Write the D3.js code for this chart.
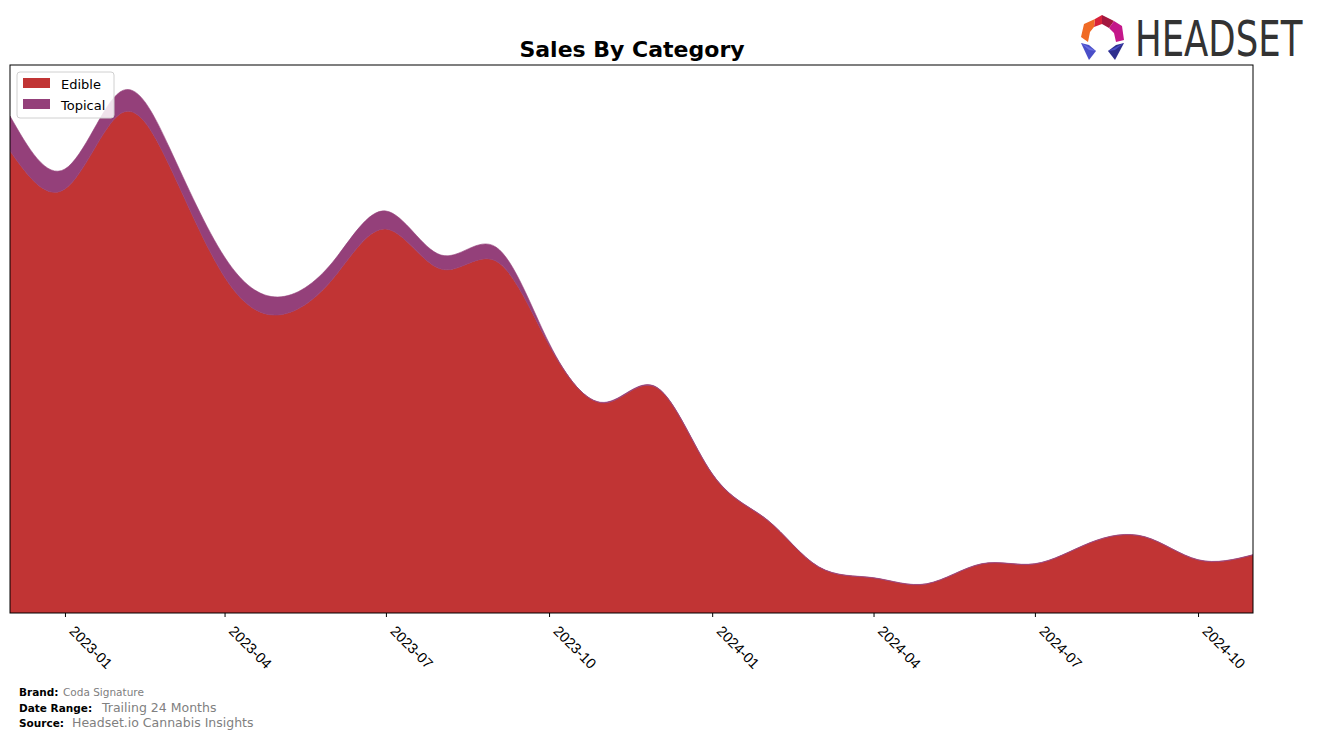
<!DOCTYPE html>
<html>
<head>
<meta charset="utf-8">
<script src="https://cdn.jsdelivr.net/npm/d3@7"></script>
<style>
  html, body { margin: 0; padding: 0; background: #ffffff; }
  svg { display: block; font-family: "DejaVu Sans", sans-serif; }
</style>
</head>
<body>
<svg id="chart" width="1317" height="739"></svg>
<script>
// ---- data (monthly) ----
const months = ["2022-12","2023-01","2023-02","2023-03","2023-04","2023-05","2023-06","2023-07",
  "2023-08","2023-09","2023-10","2023-11","2023-12","2024-01","2024-02","2024-03","2024-04",
  "2024-05","2024-06","2024-07","2024-08","2024-09","2024-10","2024-11"];
const edibleSales = [46200, 42400, 49900, 44700, 33600, 29800, 33400, 38400,
  34400, 35200, 26800, 21000, 22500, 13900, 9300, 4600, 3500,
  2900, 4900, 4900, 7000, 7600, 5300, 5800];
const topicalSales = [3500, 2000, 2200, 1800, 2000, 1800, 1700, 1800,
  1400, 1400, 200, 60, 50, 40, 30, 30, 30,
  30, 30, 30, 30, 30, 30, 30];
const seriesNames = ["Edible", "Topical"];
const seriesColors = ["#c13434", "#94407a"];
const tickLabels = ["2023-01","2023-04","2023-07","2023-10","2024-01","2024-04","2024-07","2024-10"];
const yMax = 54800;

// ---- layout ----
const svg = d3.select("#chart");
const L = 10, R = 1253, T = 65, B = 613;
const parse = d3.timeParse("%Y-%m");
const dates = months.map(parse);

const x = d3.scaleTime().domain([dates[0], dates[dates.length - 1]]).range([L, R]);
const y = d3.scaleLinear().domain([0, yMax]).range([B, T]);

const rows = months.map((m, i) => ({ date: dates[i], Edible: edibleSales[i], Topical: topicalSales[i] }));
const stack = d3.stack().keys(seriesNames);
const layers = stack(rows);

const area = d3.area()
  .curve(d3.curveNatural)
  .x(d => x(d.data.date))
  .y0(d => y(d[0]))
  .y1(d => y(d[1]));

svg.append("clipPath").attr("id", "clip")
  .append("rect").attr("x", L).attr("y", T).attr("width", R - L).attr("height", B - T);

svg.append("g").attr("clip-path", "url(#clip)")
  .selectAll("path").data(layers).join("path")
  .attr("d", area)
  .attr("fill", (d, i) => seriesColors[i])
  .attr("stroke", (d, i) => seriesColors[i])
  .attr("stroke-width", 0.6);

// frame
svg.append("rect").attr("x", L).attr("y", T).attr("width", R - L).attr("height", B - T)
  .attr("fill", "none").attr("stroke", "#000").attr("stroke-width", 1);

// x axis
const xAxis = d3.axisBottom(x)
  .tickValues(tickLabels.map(parse))
  .tickFormat(d3.timeFormat("%Y-%m"))
  .tickSize(4).tickPadding(3);
const gx = svg.append("g").attr("transform", `translate(0,${B})`).call(xAxis);
gx.select(".domain").remove();
gx.attr("font-size", 14.5);
gx.selectAll(".tick line").attr("stroke", "#000");
gx.selectAll(".tick text")
  .attr("font-size", 14.5)
  .attr("fill", "#000")
  .attr("text-anchor", "start")
  .attr("y", 0).attr("dy", 0)
  .attr("transform", "translate(3,19) rotate(45)");

// title
svg.append("text").attr("x", 632).attr("y", 57).attr("text-anchor", "middle")
  .attr("font-size", 22).attr("font-weight", "bold").attr("fill", "#000")
  .text("Sales By Category");

// legend
const lg = svg.append("g");
lg.append("rect").attr("x", 17).attr("y", 72).attr("width", 97).attr("height", 46)
  .attr("rx", 3).attr("fill", "#fff").attr("fill-opacity", 0.85)
  .attr("stroke", "#d0d0d0");
seriesNames.forEach((n, i) => {
  lg.append("rect").attr("x", 23).attr("y", 78 + i * 21).attr("width", 27).attr("height", 10)
    .attr("fill", seriesColors[i]);
  lg.append("text").attr("x", 61).attr("y", 89 + i * 21).attr("font-size", 13)
    .attr("fill", "#000").text(n);
});

// footer
const foot = [
  ["Brand:", "Coda Signature", 696, 63, 10.5],
  ["Date Range:", "Trailing 24 Months", 712, 102, 12.5],
  ["Source:", "Headset.io Cannabis Insights", 727, 72, 12.5]
];
foot.forEach(f => {
  svg.append("text").attr("x", 19).attr("y", f[2]).attr("font-size", 10.5)
    .attr("font-weight", "bold").attr("fill", "#000").text(f[0]);
  svg.append("text").attr("x", f[3]).attr("y", f[2]).attr("font-size", f[4])
    .attr("fill", "#808080").text(f[1]);
});

// logo
const logo = svg.append("g");
const cx = 1102, cy = 36;
logo.append("path").attr("d", `M${cx-7},${cy-17} L${cx},${cy-21} L${cx},${cy-12} L${cx-8},${cy-9} Z`).attr("fill", "#d8213a");
logo.append("path").attr("d", `M${cx},${cy-21} L${cx+12},${cy-15} L${cx+7},${cy-8} L${cx},${cy-12} Z`).attr("fill", "#a3173f");
logo.append("path").attr("d", `M${cx-7},${cy-17} L${cx-18},${cy-12} L${cx-21},${cy+1} L${cx-14},${cy+6} L${cx-12},${cy-4} L${cx-8},${cy-9} Z`).attr("fill", "#f06b25");
logo.append("path").attr("d", `M${cx+12},${cy-15} L${cx+20},${cy-10} L${cx+22},${cy+4} L${cx+14},${cy+6} L${cx+12},${cy-3} L${cx+7},${cy-8} Z`).attr("fill", "#c4178a");
logo.append("path").attr("d", `M${cx-21},${cy+7} L${cx-13},${cy+9} L${cx-6},${cy+15} L${cx-13},${cy+24} Z`).attr("fill", "#4a4ec8");
logo.append("path").attr("d", `M${cx-21},${cy+7} L${cx-6},${cy+15} L${cx-13},${cy+14} Z`).attr("fill", "#6a6ee0");
logo.append("path").attr("d", `M${cx+22},${cy+7} L${cx+14},${cy+9} L${cx+6},${cy+15} L${cx+13},${cy+24} Z`).attr("fill", "#2e2f8e");
logo.append("path").attr("d", `M${cx+22},${cy+7} L${cx+6},${cy+15} L${cx+13},${cy+14} Z`).attr("fill", "#4a4ec8");
const brandG = logo.append("g");
const brandT = brandG.append("text").attr("x", 0).attr("y", 0).attr("font-size", 46)
  .attr("font-family", "'DejaVu Sans Condensed', 'DejaVu Sans', sans-serif")
  .attr("fill", "#333333")
  .text("HEADSET");
const bb = brandT.node().getBBox();
const sx = 168 / bb.width;
brandG.attr("transform", `translate(${1135 - bb.x * sx},56) scale(${sx},1.08)`);
</script>
</body>
</html>
